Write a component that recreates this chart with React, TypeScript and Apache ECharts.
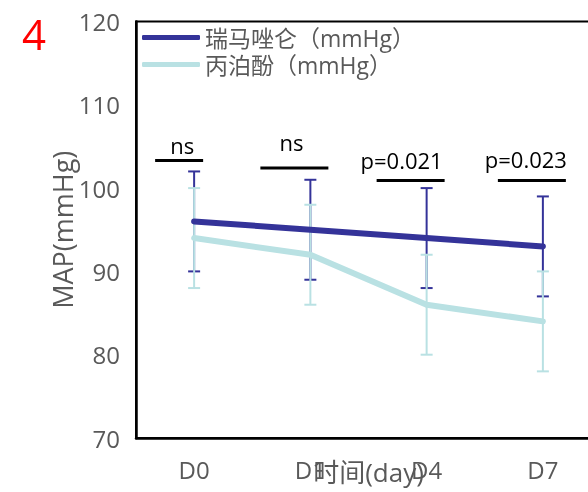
import React, { useEffect, useRef } from "react";
import * as echarts from "echarts";

const categories = ["D0", "D1", "D4", "D7"];
const remiName = "瑞马唑仑（mmHg）";
const propName = "丙泊酚（mmHg）";
const remiMean = [96, 95, 94, 93];
const remiLow = [90, 89, 88, 87];
const remiHigh = [102, 101, 100, 99];
const propMean = [94, 92, 86, 84];
const propLow = [88, 86, 80, 78];
const propHigh = [100, 98, 92, 90];
const sigLabels = ["ns", "ns", "p=0.021", "p=0.023"];
const sigLevels = [103.3, 102.4, 100.9, 100.9];
const yTicks = { min: 70, max: 120, interval: 10 };

// pixel styling of the significance bars (relative to category centre)
const sigLineOffsets = [[-39, 9], [-50, 18], [-50, 18], [-45, 23]];
const sigTextOffsets = [[-12, -16], [-19, -26], [-25, -21], [-17, -22]];

const FONT = "'Open Sans', 'Noto Sans CJK SC', sans-serif";
const DARK = "#343399";
const LIGHT = "#b9e1e3";
const GREY = "#595959";

function errorSeries(name: string, low: number[], high: number[], color: string, z: number) {
  return {
    type: "custom",
    name,
    z,
    data: categories.map((_, i) => [i, low[i], high[i]]),
    encode: { x: 0, y: [1, 2] },
    renderItem: (params: any, api: any) => {
      const x = api.value(0);
      const lo = api.coord([x, api.value(1)]);
      const hi = api.coord([x, api.value(2)]);
      const w = 6;
      const style = { stroke: color, lineWidth: 2 };
      return {
        type: "group",
        children: [
          { type: "line", shape: { x1: lo[0], y1: lo[1], x2: hi[0], y2: hi[1] }, style },
          { type: "line", shape: { x1: lo[0] - w, y1: lo[1], x2: lo[0] + w, y2: lo[1] }, style },
          { type: "line", shape: { x1: hi[0] - w, y1: hi[1], x2: hi[0] + w, y2: hi[1] }, style },
        ],
      };
    },
    silent: true,
  };
}

export default function App() {
  const ref = useRef<HTMLDivElement>(null);
  useEffect(() => {
    if (!ref.current) return;
    const chart = echarts.init(ref.current, undefined, { renderer: "svg" });
    chart.setOption({
      animation: false,
      textStyle: { fontFamily: FONT },
      grid: {
        left: 136,
        top: 21.5,
        right: -13,
        bottom: 54,
        containLabel: false,
        outerBoundsMode: "none",
        show: true,
        borderColor: "#000",
        borderWidth: 2,
        backgroundColor: "transparent",
      },
      graphic: [
        {
          type: "text",
          left: 22,
          top: 12,
          style: { text: "4", fill: "#ff0000", fontSize: 42, fontFamily: FONT },
        },
      ],
      legend: {
        data: [remiName, propName],
        orient: "vertical",
        left: 137,
        top: 21,
        itemWidth: 58,
        itemHeight: 5,
        itemGap: 4,
        icon: "roundRect",
        textStyle: { fontSize: 23, lineHeight: 23, color: GREY, fontFamily: FONT },
      },
      xAxis: {
        type: "category",
        data: categories,
        boundaryGap: true,
        axisTick: { show: false },
        axisLine: { lineStyle: { color: "#000", width: 2.5 } },
        axisLabel: { color: GREY, fontSize: 24, margin: 19, fontFamily: FONT },
        name: "时间(day)",
        nameLocation: "middle",
        nameGap: 21,
        nameMoveOverlap: false,
        nameTextStyle: { color: GREY, fontSize: 26, fontFamily: FONT },
        splitLine: { show: false },
      },
      yAxis: {
        type: "value",
        min: yTicks.min,
        max: yTicks.max,
        interval: yTicks.interval,
        axisLine: { show: true, lineStyle: { color: "#000", width: 2.5 } },
        axisTick: { show: false },
        splitLine: { show: false },
        axisLabel: { color: GREY, fontSize: 24, margin: 16, fontFamily: FONT },
        name: "MAP(mmHg)",
        nameLocation: "middle",
        nameGap: 60,
        nameMoveOverlap: false,
        nameTextStyle: { color: GREY, fontSize: 27, fontFamily: FONT },
      },
      series: [
        errorSeries("remiErr", remiLow, remiHigh, DARK, 1),
        errorSeries("propErr", propLow, propHigh, LIGHT, 2),
        {
          type: "line",
          name: propName,
          data: propMean,
          showSymbol: false,
          symbol: "none",
          z: 3,
          color: LIGHT,
          lineStyle: { color: LIGHT, width: 6, cap: "round", join: "round" },
        },
        {
          type: "line",
          name: remiName,
          data: remiMean,
          showSymbol: false,
          symbol: "none",
          z: 4,
          color: DARK,
          lineStyle: { color: DARK, width: 6, cap: "round", join: "round" },
        },
        {
          type: "custom",
          name: "sig",
          z: 5,
          silent: true,
          data: categories.map((_, i) => [i, sigLevels[i]]),
          encode: { x: 0, y: 1 },
          renderItem: (params: any, api: any) => {
            const i = params.dataIndex;
            const p = api.coord([api.value(0), api.value(1)]);
            const lo = sigLineOffsets[i];
            const to = sigTextOffsets[i];
            return {
              type: "group",
              children: [
                {
                  type: "line",
                  shape: { x1: p[0] + lo[0], y1: p[1], x2: p[0] + lo[1], y2: p[1] },
                  style: { stroke: "#000", lineWidth: 3 },
                },
                {
                  type: "text",
                  x: p[0] + to[0],
                  y: p[1] + to[1],
                  style: {
                    text: sigLabels[i],
                    fill: "#000",
                    fontSize: 22,
                    fontFamily: FONT,
                    align: "center",
                    verticalAlign: "middle",
                  },
                },
              ],
            };
          },
        },
      ],
    });
    return () => chart.dispose();
  }, []);
  return <div ref={ref} style={{ position: "fixed", left: 0, top: 0, width: 588, height: 492 }} />;
}
